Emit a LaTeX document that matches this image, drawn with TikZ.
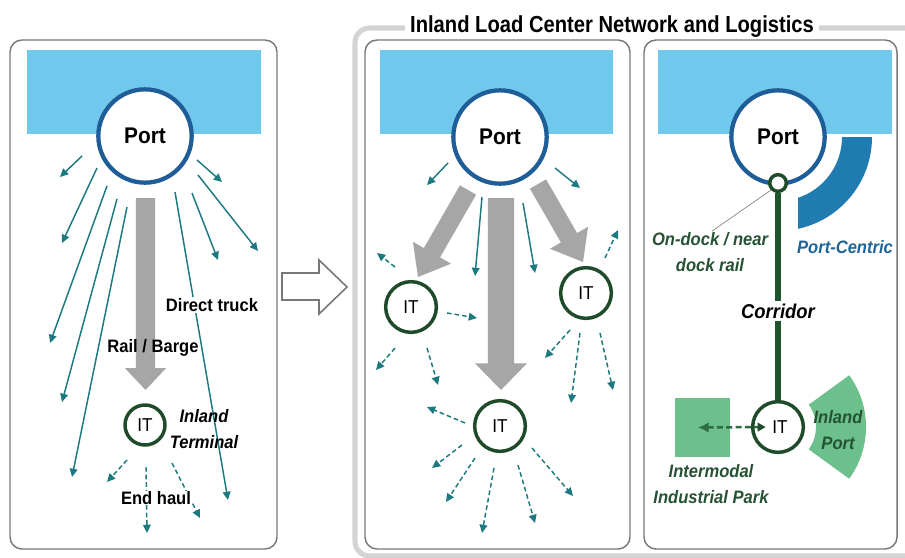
\documentclass[tikz,border=0pt]{standalone}
\usepackage{fontspec}
\setmainfont[FakeStretch=0.92]{Liberation Sans}
\newfontfamily\titlefont[FakeStretch=0.87]{Liberation Sans}
\usetikzlibrary{arrows.meta,calc}

\definecolor{sea}{RGB}{112,200,236}
\definecolor{portblue}{RGB}{31,93,153}
\definecolor{routeteal}{RGB}{27,122,128}
\definecolor{flowgray}{RGB}{166,166,166}
\definecolor{itgreen}{RGB}{31,75,42}
\definecolor{corridorgreen}{RGB}{30,85,45}
\definecolor{parkgreen}{RGB}{108,192,139}
\definecolor{labelgreen}{RGB}{38,82,52}
\definecolor{linkgreen}{RGB}{45,110,65}
\definecolor{centricblue}{RGB}{31,123,176}
\definecolor{centrictext}{RGB}{31,100,150}
\definecolor{panelgray}{RGB}{120,120,120}
\definecolor{bracketgray}{RGB}{212,212,212}

\newcommand{\txtsize}[2]{\fontsize{#1}{#2}\selectfont}

% filled block arrow: start, tip, shaft half width, head half width, head length
\newcommand{\blockarrow}[5]{%
  \coordinate (ba-h) at ($(#2)!#5!(#1)$);
  \fill[flowgray] ($(#1)!#3!90:(#2)$) -- ($(ba-h)!#3!90:(#2)$) --
    ($(ba-h)!#4!90:(#2)$) -- (#2) -- ($(ba-h)!#4!-90:(#2)$) --
    ($(ba-h)!#3!-90:(#2)$) -- ($(#1)!#3!-90:(#2)$) -- cycle;
}

\begin{document}
\begin{tikzpicture}[x=0.75pt,y=-0.75pt,
  panel/.style={draw=panelgray,line width=1.1pt,fill=white,rounded corners=9pt},
  bracket/.style={draw=bracketgray,line width=3.8pt,rounded corners=11pt},
  port/.style={circle,draw=portblue,line width=3.2pt,fill=white,inner sep=0pt,
    minimum size=70pt,font=\txtsize{17}{17}\bfseries},
  itnode/.style={circle,draw=itgreen,line width=2.6pt,fill=white,inner sep=0pt,
    minimum size=38pt,font=\txtsize{14}{14}},
  smallit/.style={itnode,minimum size=30pt},
  truck/.style={draw=routeteal,line width=1.1pt,-{Triangle[length=6.2pt,width=5.8pt]}},
  haul/.style={truck,dash pattern=on 3.5pt off 2.2pt},
  lbl/.style={font=\txtsize{13.5}{19}\bfseries,align=center,inner sep=1pt},
  ilbl/.style={font=\txtsize{13.5}{19}\bfseries\itshape,align=center,inner sep=1pt},
  corridor/.style={draw=corridorgreen,line width=4.5pt},
  leader/.style={draw=gray,line width=0.5pt},
  parklink/.style={draw=linkgreen,line width=1.9pt,dash pattern=on 4.5pt off 2.5pt,
    {Latex[length=8pt,width=8pt]}-{Triangle[length=6pt,width=6.5pt,fill=itgreen,color=itgreen]}},
  hollow/.style={draw=panelgray,line width=1.2pt,fill=white}
]
\useasboundingbox (0,0) rectangle (905,557);

% grouping bracket around the two network panels
\draw[bracket] (915,28) -- (355,28) -- (355,556) -- (915,556);
\node[font=\titlefont\txtsize{17.4}{17.4}\bfseries,fill=white,inner xsep=4pt,inner ysep=1pt,anchor=base]
  (title) at (612,32) {Inland Load Center Network and Logistics};

% panels
\draw[panel] (10,40) rectangle (277,549);
\draw[panel] (365,40) rectangle (630,549);
\draw[panel] (644,40) rectangle (897,549);

% water
\fill[sea] (27,50) rectangle (261,134);
\fill[sea] (380,50) rectangle (613,134);
\fill[sea] (658,50) rectangle (892,134);

% transition arrow between the panels
\draw[hollow] (282,273) -- (319,273) -- (319,260) -- (347,287) -- (319,314) -- (319,300) -- (282,300) -- cycle;

% ---------------- panel 1: direct service ----------------
\draw[truck] (82,156) -- (60,177);
\draw[truck] (97,168) -- (62,243);
\draw[truck] (107,186) -- (50,343);
\draw[truck] (117,199) -- (62,402);
\draw[truck] (127,207) -- (72,477);
\draw[truck] (197,160) -- (222,182);
\draw[truck] (198,175) -- (258,251);
\draw[truck] (192,193) -- (218,260);
\draw[truck] (175,192) -- (228,500);

\coordinate (r1s) at (145.5,198);
\coordinate (r1t) at (145.5,390);
\blockarrow{r1s}{r1t}{7.3pt}{15.5pt}{16.5pt}

\node[port] (port1) at (145,136) {Port};
\node[smallit] (it1) at (145,425) {IT};

\draw[haul] (127,460) -- (107,482);
\draw[haul] (146,467) -- (147,533);
\draw[haul] (172,463) -- (200,518);

\node[lbl,fill=white] (truck-lbl) at (212,305) {Direct truck};
\node[lbl] (rail-lbl) at (153,348) {Rail / Barge};
\node[ilbl] (term-lbl) at (204,429) {Inland\\Terminal};
\node[lbl,fill=white,inner ysep=0pt] (haul-lbl) at (156,498) {End haul};

% ---------------- panel 2: inland terminal network ----------------
\draw[truck] (448,163) -- (427,185);
\draw[truck] (555,168) -- (580,188);
\draw[truck] (482,197) -- (475,276);
\draw[truck] (523,203) -- (535,273);

\coordinate (r2as) at (468,190);
\coordinate (r2at) at (418,277);
\blockarrow{r2as}{r2at}{7pt}{16.5pt}{21pt}
\coordinate (r2bs) at (501,198);
\coordinate (r2bt) at (501,390);
\blockarrow{r2bs}{r2bt}{9.8pt}{19.5pt}{20pt}
\coordinate (r2cs) at (538,184);
\coordinate (r2ct) at (583,262);
\blockarrow{r2cs}{r2ct}{7pt}{16.5pt}{21pt}

\node[port] (port2) at (500,137) {Port};
\node[itnode] (it2a) at (411,307) {IT};
\node[itnode] (it2b) at (586,293) {IT};
\node[itnode] (it2c) at (500,426) {IT};

% distribution from the terminals
\draw[haul] (395,267) -- (377,253);
\draw[haul] (447,313) -- (477,318);
\draw[haul] (395,348) -- (376,370);
\draw[haul] (427,348) -- (438,385);
\draw[haul] (605,258) -- (618,230);
\draw[haul] (570,330) -- (545,358);
\draw[haul] (580,333) -- (571,403);
\draw[haul] (600,333) -- (613,390);
\draw[haul] (465,423) -- (427,407);
\draw[haul] (462,445) -- (432,468);
\draw[haul] (475,458) -- (446,502);
\draw[haul] (494,468) -- (482,533);
\draw[haul] (518,465) -- (535,523);
\draw[haul] (532,448) -- (573,496);

% ---------------- panel 3: corridor and inland port ----------------
\node[port] (port3) at (778,137) {Port};

% port-centric zone hugging the port
\fill[centricblue] ([shift={(0:64)}]port3.center) -- ([shift={(0:94)}]port3.center)
  arc[start angle=0,end angle=77.7,radius=94] -- (798,197.8)
  arc[start angle=71.8,end angle=0,radius=64] -- cycle;

\node[itnode] (it3) at (778,427) {\hspace{3pt}IT};
\node[circle,draw=itgreen,line width=2.6pt,fill=white,inner sep=0pt,minimum size=12.5pt]
  (dock) at (778,183) {};
\draw[corridor] (dock) -- (it3);

% inland port zone around the terminal
\fill[parkgreen] ([shift={(-36:38)}]it3.center) arc[start angle=-36,end angle=36,radius=38]
  -- ([shift={(36:88)}]it3.center) arc[start angle=36,end angle=-36,radius=88] -- cycle;

% intermodal industrial park
\node[fill=parkgreen,minimum width=41pt,minimum height=44pt,inner sep=0pt] (park) at (702.5,427.5) {};
\draw[parklink] ([xshift=-3.4pt]park.center) -- ([xshift=11pt]it3.west);

\node[ilbl,font=\txtsize{15}{15}\bfseries\itshape,fill=white,inner sep=2pt] (corr-lbl) at (778,311) {Corridor};
\node[ilbl,text=labelgreen] (dock-lbl) at (710,252) {On-dock / near\\dock rail};
\draw[leader] ([xshift=1.5pt]dock-lbl.north) -- (dock.south west);
\node[ilbl,text=centrictext] (centric-lbl) at (845,247) {Port-Centric};
\node[ilbl,text=labelgreen] (inland-lbl) at (838,430) {Inland\\Port};
\node[ilbl,text=labelgreen] (park-lbl) at (711,484) {Intermodal\\Industrial Park};
\end{tikzpicture}
\end{document}
